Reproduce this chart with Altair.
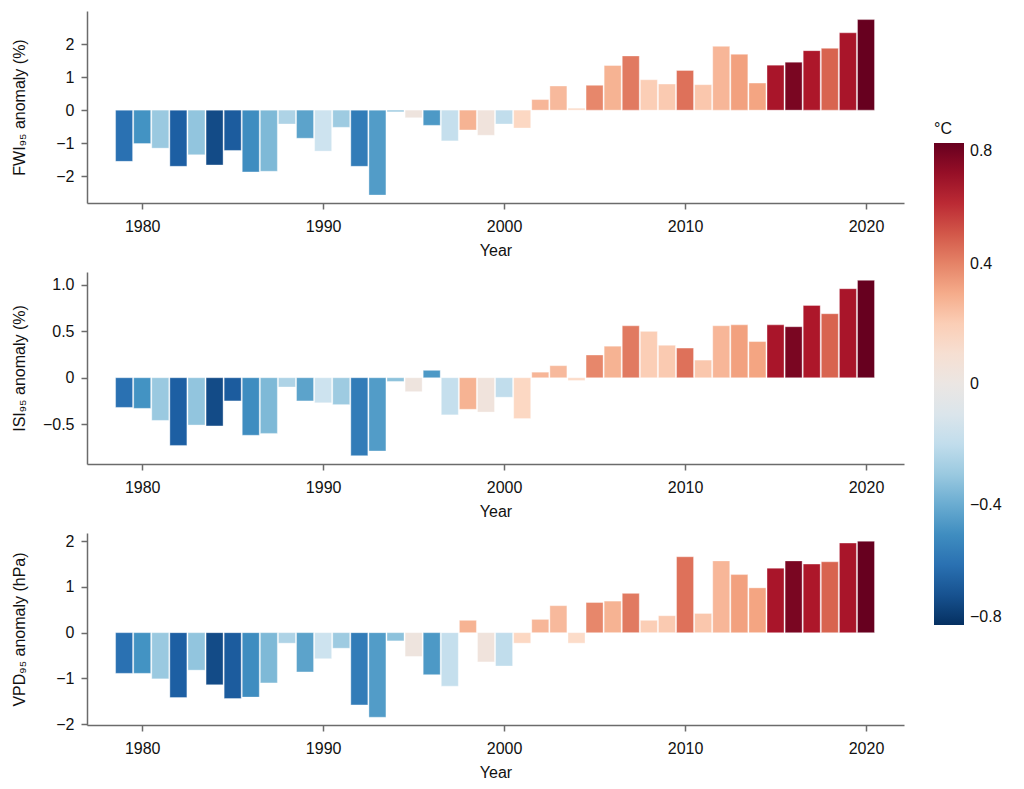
import altair as alt
import pandas as pd

years = [1979, 1980, 1981, 1982, 1983, 1984, 1985, 1986, 1987, 1988,
         1989, 1990, 1991, 1992, 1993, 1994, 1995, 1996, 1997, 1998,
         1999, 2000, 2001, 2002, 2003, 2004, 2005, 2006, 2007, 2008,
         2009, 2010, 2011, 2012, 2013, 2014, 2015, 2016, 2017, 2018,
         2019, 2020]

temp = [-0.60, -0.48, -0.30, -0.66, -0.32, -0.72, -0.67, -0.50, -0.36, -0.25,
        -0.43, -0.17, -0.29, -0.56, -0.45, -0.33, 0.03, -0.46, -0.19, 0.28,
        0.04, -0.20, 0.17, 0.27, 0.26, 0.15, 0.39, 0.28, 0.42, 0.20,
        0.21, 0.44, 0.22, 0.27, 0.33, 0.32, 0.66, 0.76, 0.65, 0.47,
        0.66, 0.80]

fwi = [-1.55, -1.01, -1.15, -1.70, -1.35, -1.66, -1.22, -1.87, -1.85, -0.42,
       -0.85, -1.24, -0.52, -1.70, -2.57, -0.05, -0.23, -0.46, -0.93, -0.60,
       -0.76, -0.42, -0.54, 0.32, 0.73, 0.06, 0.75, 1.35, 1.64, 0.92,
       0.79, 1.20, 0.77, 1.93, 1.69, 0.82, 1.36, 1.45, 1.80, 1.87,
       2.34, 2.74]

isi = [-0.32, -0.33, -0.46, -0.73, -0.51, -0.52, -0.25, -0.62, -0.60, -0.10,
       -0.25, -0.27, -0.29, -0.84, -0.79, -0.04, -0.15, 0.08, -0.40, -0.34,
       -0.37, -0.21, -0.44, 0.06, 0.13, -0.03, 0.245, 0.34, 0.56, 0.50,
       0.35, 0.32, 0.19, 0.56, 0.57, 0.39, 0.57, 0.55, 0.78, 0.69,
       0.96, 1.05]

vpd = [-0.89, -0.89, -1.01, -1.42, -0.82, -1.14, -1.44, -1.41, -1.10, -0.23,
       -0.86, -0.57, -0.34, -1.58, -1.85, -0.18, -0.52, -0.92, -1.17, 0.27,
       -0.64, -0.73, -0.23, 0.29, 0.59, -0.23, 0.66, 0.69, 0.86, 0.27,
       0.37, 1.66, 0.42, 1.57, 1.27, 0.98, 1.41, 1.57, 1.50, 1.55,
       1.96, 2.00]

color_stops = [-0.8, -0.64, -0.48, -0.32, -0.16, 0.0, 0.16, 0.32, 0.48, 0.64, 0.8]
color_range = ["#053061", "#2166ac", "#4393c3", "#92c5de", "#d1e5f0", "#ebe6e3",
               "#fddbc7", "#f4a582", "#d6604d", "#b2182b", "#67001f"]
legend_ticks = [0.8, 0.4, 0.0, -0.4, -0.8]
year_ticks = [1980, 1990, 2000, 2010, 2020]

df = pd.DataFrame({"year": years, "temp": temp, "fwi": fwi, "isi": isi, "vpd": vpd})

FONT = "Liberation Sans"
AX = "#6b6b6b"
TXT = "#111111"

color_enc = alt.Color(
    "temp:Q",
    scale=alt.Scale(domain=color_stops, range=color_range, interpolate="rgb"),
    legend=alt.Legend(
        title="°C", orient="none", legendX=847, legendY=110,
        direction="vertical", gradientLength=482, gradientThickness=30,
        gradientStrokeWidth=0, values=legend_ticks,
        labelExpr="datum.value == 0 ? '0' : format(datum.value, '.1f')",
        labelFontSize=16, titleFontSize=16, titleFontWeight="normal",
        labelOffset=6, titlePadding=6, titleAnchor="start", titleAlign="left",
        labelColor=TXT, titleColor=TXT, labelFont=FONT, titleFont=FONT,
    ),
)


def panel(field, ytitle, ydomain, yticks, label_expr):
    return alt.Chart(df).transform_calculate(
        x0="datum.year - 0.47", x1="datum.year + 0.47"
    ).mark_bar(stroke="white", strokeWidth=0.6, strokeOpacity=0.6).encode(
        x=alt.X("x0:Q",
                scale=alt.Scale(domain=[1976.95, 2022.1], nice=False, zero=False),
                axis=alt.Axis(title="Year", values=year_ticks, format="d",
                              labelPadding=9, titlePadding=8)),
        x2="x1:Q",
        y=alt.Y(f"{field}:Q",
                scale=alt.Scale(domain=ydomain, nice=False, zero=False),
                axis=alt.Axis(title=ytitle, values=yticks, labelExpr=label_expr,
                              labelPadding=7,
                              titleX=-60, titleY=96, titleAlign="center",
                              titleBaseline="bottom")),
        y2=alt.datum(0),
        color=color_enc,
    ).properties(width=817, height=192)


p1 = panel("fwi", "FWI₉₅ anomaly (%)", [-2.81, 3.0], [-2, -1, 0, 1, 2],
           "format(datum.value, 'd')")
p2 = panel("isi", "ISI₉₅ anomaly (%)", [-0.93, 1.14], [-0.5, 0, 0.5, 1.0],
           "datum.value == 0 ? '0' : format(datum.value, '.1f')")
p3 = panel("vpd", "VPD₉₅ anomaly (hPa)", [-2.02, 2.18], [-2, -1, 0, 1, 2],
           "format(datum.value, 'd')")

chart = alt.vconcat(p1, p2, p3, spacing=14).properties(
    padding={"left": 2, "top": 3, "right": 5, "bottom": 2}
).configure(font=FONT).configure_view(stroke=None).configure_axis(
    domainColor=AX, tickColor=AX, domainWidth=1.5, tickWidth=1.5, tickSize=6,
    labelFontSize=16, titleFontSize=16, titleFontWeight="normal",
    labelFont=FONT, titleFont=FONT, labelColor=TXT, titleColor=TXT, grid=False,
)

chart.save("out.html", embed_options={"renderer": "svg", "actions": False})
